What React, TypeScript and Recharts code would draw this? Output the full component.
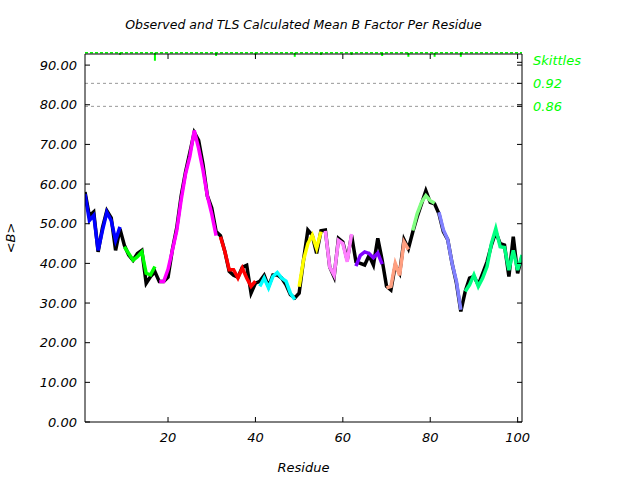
import { Label, Line, LineChart, ReferenceLine, XAxis, YAxis } from "recharts";

// residue numbers 1..101
const residues = Array.from({ length: 101 }, (_, i) => i + 1);

// observed mean B per residue (black line)
const observed = [
  58, 52, 53, 42.9, 49, 53.3, 51.5, 43.3, 48.7, 44.6,
  42.1, 40.8, 42.5, 43.3, 35, 36.7, 37.9, 35.4, 35.4, 36.5,
  43.5, 49, 57, 63, 68, 73, 71, 65, 57, 54,
  48, 47, 43, 38, 37, 36.5, 39, 39.5, 32.5, 35,
  35.5, 37, 34.2, 37.1, 37.1, 36.3, 34.6, 32.1, 31.3, 32.5,
  40.8, 48.4, 47.1, 42.5, 48.2, 48.4, 39.1, 36.6, 46.3, 45.4,
  40.8, 47.1, 40.4, 40, 39.6, 42, 39.6, 46.3, 40.8, 34.2,
  33.3, 39.5, 37.5, 46, 43.7, 47.9, 51.7, 55, 58.3, 55.4,
  55, 52.5, 48, 46, 40, 35, 27.9, 32.9, 36.3, 36.7,
  34.6, 37.5, 40.4, 44.6, 47.9, 45, 44.6, 36.7, 46.7, 37.5,
  41.7,
];

// TLS calculated mean B per residue (coloured by TLS group)
const calculated = [
  57.5, 50.8, 52.1, 43.3, 48.3, 52.9, 50.8, 45.8, 49.2, 44.2,
  42.5, 40.8, 41.7, 42.9, 37.5, 37.1, 39.2, 35.4, 35.4, 38.5,
  43.3, 48.3, 56, 62.5, 67, 73.5, 69, 63.5, 57, 52.5,
  47, 46.7, 43, 38.4, 38.4, 36.3, 38.8, 36.3, 34.2, 35.5,
  34.2, 36.3, 33.8, 36.7, 37.7, 36.3, 35.5, 32.5, 30.9, 34.1,
  40.8, 45, 47.1, 43.8, 48, 48.2, 39.1, 37, 45.8, 45,
  40.4, 47.4, 39.3, 42, 42.9, 42.5, 41.4, 42.6, 39.8, 33.8,
  34.2, 40, 37, 45.4, 43.5, 48.3, 52.5, 55.4, 57.1, 55.8,
  55.2, 52.9, 48.5, 46, 40, 35.5, 28.3, 32.9, 34.6, 37.1,
  34.2, 36.3, 39.2, 45, 48.8, 44.2, 44, 38.3, 43.3, 38.3,
  42.1,
];

// last residue of each TLS group
const groupEnds = [9, 17, 31, 40, 49, 55, 62, 69, 75, 81, 87, 101];
const groupColors = [
  "#0000ff", "#00ff00", "#ff00ff", "#ff0000", "#00ffff", "#ffff00",
  "#ff80ff", "#8000ff", "#ff9f80", "#80ff80", "#8080ff", "#00ff80",
];

// skittles marks: depth below the top edge (in B units) at each group end
const skittleDepth = [0.5, 2, 0.8, 0.5, 1, 0.5, 0.5, 0.8, 1, 1, 1];
const skittleLevels = [85.4, 79.6];
const skittleLabels = ["0.92", "0.86"];

const xTicks = [20, 40, 60, 80, 100];
const yTicks = [0, 10, 20, 30, 40, 50, 60, 70, 80, 90];
const yMax = 92.8;
const topLine = 93.1;

const green = "#00ff00";
const font = "'DejaVu Sans', sans-serif";
const tickLine = { stroke: "#000", strokeWidth: 1 };

const table = residues.map((r, i) => {
  const row: Record<string, number | null> = { residue: r, observed: observed[i] };
  let start = 1;
  groupEnds.forEach((end, g) => {
    row["g" + g] = r >= start && r <= end ? calculated[i] : null;
    start = end + 1;
  });
  return row;
});

const RightTick = (props: any) => {
  const { x, y, payload } = props;
  const idx = skittleLevels.indexOf(payload.value);
  if (idx < 0) return <g />;
  return (
    <text x={x} y={y} dy="0.35em" textAnchor="start" fill={green}
      fontSize={13} fontStyle="italic" fontFamily={font}>
      {skittleLabels[idx]}
    </text>
  );
};

export default function App() {
  return (
    <div style={{ position: "absolute", left: 0, top: 0, width: 640, height: 480, background: "#fff", fontFamily: font }}>
      <div style={{ position: "absolute", left: 85, width: 437, top: 17, textAlign: "center", fontSize: 12.5, fontStyle: "italic" }}>
        Observed and TLS Calculated Mean B Factor Per Residue
      </div>
      <div style={{ position: "absolute", left: 533, top: 53, fontSize: 13, fontStyle: "italic", color: green }}>
        Skittles
      </div>
      <LineChart width={640} height={480} data={table}
        margin={{ top: 53, right: 117, bottom: 0, left: 0 }}>
        <XAxis dataKey="residue" type="number" domain={[1, 101]} ticks={xTicks} interval={0}
          height={58} tickSize={-5} tickMargin={16} stroke="#000" tickLine={tickLine}
          tick={{ fill: "#000", fontSize: 13, fontStyle: "italic", fontFamily: font }}
          allowDataOverflow>
          <Label value="Residue" position="insideBottom" offset={8}
            style={{ fontSize: 13, fontStyle: "italic", fontFamily: font, fill: "#000" }} />
        </XAxis>
        <XAxis xAxisId="top" orientation="top" dataKey="residue" type="number" domain={[1, 101]}
          ticks={xTicks} interval={0} height={1} tickSize={-5} tickLine={tickLine}
          tickFormatter={() => ""} stroke="#000" />
        <YAxis type="number" domain={[0, yMax]} ticks={yTicks} interval={0} width={85}
          tickSize={-5} tickMargin={13} stroke="#000" tickLine={tickLine} allowDataOverflow
          tickFormatter={(v: number) => v.toFixed(2)}
          tick={{ fill: "#000", fontSize: 13, fontStyle: "italic", fontFamily: font }}>
          <Label value="<B>" angle={-90} position="insideLeft" offset={10}
            style={{ fontSize: 13, fontStyle: "italic", fontFamily: font, fill: "#000", textAnchor: "middle" }} />
        </YAxis>
        <YAxis yAxisId="right" orientation="right" type="number" domain={[0, yMax]}
          ticks={[...yTicks, ...skittleLevels, 90.7]} interval={0} width={1} tickSize={-5} tickMargin={16}
          stroke="#000" tickLine={tickLine} tick={<RightTick />} allowDataOverflow />
        {skittleLevels.map((v) => (
          <ReferenceLine key={v} y={v} stroke="#999" strokeDasharray="3 3" />
        ))}
        <ReferenceLine y={topLine} stroke={green} strokeWidth={1.5} strokeDasharray="3 2" ifOverflow="visible" />
        {skittleDepth.map((d, i) => (
          <ReferenceLine key={"s" + i} ifOverflow="visible" stroke={green} strokeWidth={2}
            segment={[{ x: groupEnds[i], y: topLine }, { x: groupEnds[i], y: topLine - d }]} />
        ))}
        <Line dataKey="observed" stroke="#000" strokeWidth={3.5} dot={false}
          isAnimationActive={false} type="linear" />
        {groupColors.map((c, g) => (
          <Line key={g} dataKey={"g" + g} stroke={c} strokeWidth={3.5} dot={false}
            isAnimationActive={false} type="linear" connectNulls={false} />
        ))}
      </LineChart>
    </div>
  );
}
